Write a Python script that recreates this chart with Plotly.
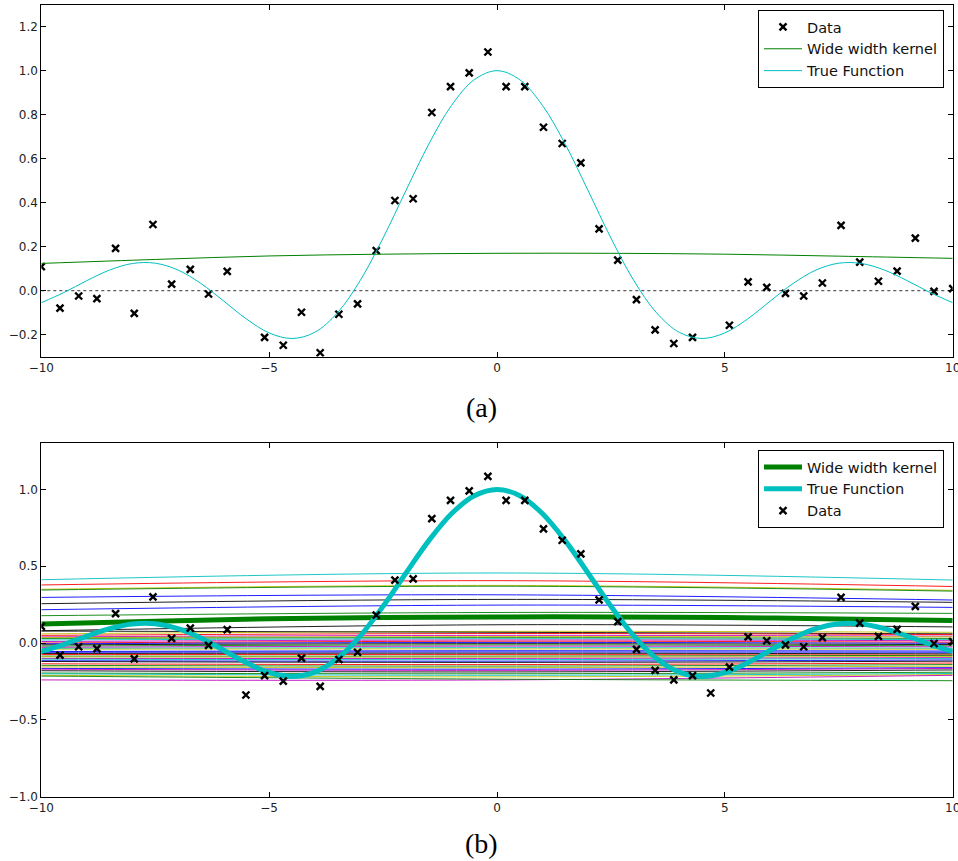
import plotly.graph_objects as go

# ---------------- data ----------------
data_x = [-10.0, -9.59, -9.18, -8.78, -8.37, -7.96, -7.55, -7.14, -6.73, -6.33,
          -5.92, -5.51, -5.10, -4.69, -4.29, -3.88, -3.47, -3.06, -2.65, -2.24,
          -1.84, -1.43, -1.02, -0.61, -0.20, 0.20, 0.61, 1.02, 1.43, 1.84,
          2.24, 2.65, 3.06, 3.47, 3.88, 4.29, 4.69, 5.10, 5.51, 5.92,
          6.33, 6.73, 7.14, 7.55, 7.96, 8.37, 8.78, 9.18, 9.59, 10.0]
data_y = [0.109, -0.079, -0.024, -0.036, 0.192, -0.103, 0.301, 0.030, 0.097, -0.015,
          0.088, -0.338, -0.212, -0.248, -0.098, -0.282, -0.107, -0.060, 0.182, 0.410,
          0.418, 0.810, 0.928, 0.990, 1.085, 0.928, 0.928, 0.743, 0.669, 0.581,
          0.281, 0.139, -0.041, -0.178, -0.240, -0.212, -0.325, -0.157, 0.040, 0.015,
          -0.012, -0.024, 0.035, 0.297, 0.130, 0.043, 0.089, 0.239, -0.003, 0.009]

true_x = [-10, -9.5, -9, -8.5, -8, -7.5, -7, -6.5, -6, -5.5, -5, -4.5, -4, -3.5, -3,
          -2.5, -2, -1.5, -1, -0.5, 0, 0.5, 1, 1.5, 2, 2.5, 3, 3.5, 4, 4.5, 5,
          5.5, 6, 6.5, 7, 7.5, 8, 8.5, 9, 9.5, 10]
true_y = [-0.0544, -0.0079, 0.0458, 0.0939, 0.1237, 0.1251, 0.0939, 0.0331, -0.0466,
          -0.1283, -0.1918, -0.2172, -0.1892, -0.1002, 0.0470, 0.2394, 0.4546, 0.6650,
          0.8415, 0.9589, 1.0, 0.9589, 0.8415, 0.6650, 0.4546, 0.2394, 0.0470, -0.1002,
          -0.1892, -0.2172, -0.1918, -0.1283, -0.0466, 0.0331, 0.0939, 0.1251, 0.1237,
          0.0939, 0.0458, -0.0079, -0.0544]

kernel_x = [-10, -7.5, -5, -2.5, 0, 2.5, 5, 7.5, 10]
kernel_y = [0.124, 0.142, 0.158, 0.166, 0.170, 0.170, 0.166, 0.157, 0.147]

# prior samples (panel b): value at x = -10, 0, 10
sample_x = [-10, 0, 10]
sample_colors = ['c', 'r', 'y', 'g', 'b', 'k', 'b', 'g', 'k',
                 'y', 'k', 'r', 'm', 'y', 'g', 'c', 'm', 'r', 'b', 'k', 'g', 'm', 'c',
                 'y', 'b', 'b', 'k', 'r', 'g', 'y', 'm', 'c', 'b', 'k', 'r', 'g', 'y',
                 'b', 'm', 'k', 'g', 'c', 'y', 'm', 'g']
sample_left = [0.412, 0.378, 0.350, 0.345, 0.297, 0.256, 0.217, 0.178, 0.080,
               0.060, 0.078, 0.050, 0.040, 0.035, 0.030, 0.020, 0.010, 0.000, -0.005,
               -0.012, -0.020, -0.028, -0.035, -0.040, -0.055, -0.060, -0.068, -0.075,
               -0.085, -0.090, -0.100, -0.105, -0.115, -0.120, -0.135, -0.145, -0.155,
               -0.165, -0.170, -0.180, -0.195, -0.200, -0.210, -0.240, -0.215]
sample_mid = [0.456, 0.406, 0.375, 0.370, 0.314, 0.284, 0.247, 0.199, 0.119,
              0.076, 0.070, 0.062, 0.050, 0.042, 0.035, 0.028, 0.020, 0.012, 0.004,
              -0.004, -0.012, -0.020, -0.030, -0.038, -0.050, -0.058, -0.066, -0.075,
              -0.085, -0.092, -0.100, -0.108, -0.118, -0.126, -0.140, -0.150, -0.160,
              -0.170, -0.178, -0.188, -0.200, -0.210, -0.220, -0.240, -0.235]
sample_right = [0.410, 0.368, 0.343, 0.338, 0.280, 0.265, 0.232, 0.193, 0.105,
                0.070, 0.060, 0.055, 0.045, 0.040, 0.030, 0.022, 0.015, 0.005, -0.002,
                -0.010, -0.018, -0.025, -0.034, -0.040, -0.052, -0.060, -0.070, -0.078,
                -0.080, -0.088, -0.095, -0.100, -0.110, -0.118, -0.130, -0.140, -0.150,
                -0.160, -0.165, -0.175, -0.190, -0.198, -0.205, -0.210, -0.245]

x_ticks = [-10, -5, 0, 5, 10]
y_ticks_a = [-0.2, 0.0, 0.2, 0.4, 0.6, 0.8, 1.0, 1.2]
y_ticks_b = [-1.0, -0.5, 0.0, 0.5, 1.0]

# ---------------- styling ----------------
MPL = {'b': '#0000ff', 'g': '#008000', 'r': '#ff0000', 'c': '#00bfbf',
       'm': '#bf00bf', 'y': '#bfbf00', 'k': '#000000'}
W, H = 958, 861
fig = go.Figure()

marker_style = dict(symbol='x-thin', size=7, color='black',
                    line=dict(width=2.4, color='black'))

# ----- panel (a)
fig.add_trace(go.Scatter(x=data_x, y=data_y, mode='markers', name='Data',
                         marker=marker_style, xaxis='x', yaxis='y', legend='legend'))
fig.add_trace(go.Scatter(x=kernel_x, y=kernel_y, mode='lines', name='Wide width kernel',
                         line=dict(color=MPL['g'], width=1, shape='spline'),
                         xaxis='x', yaxis='y', legend='legend'))
fig.add_trace(go.Scatter(x=true_x, y=true_y, mode='lines', name='True Function',
                         line=dict(color=MPL['c'], width=1, shape='spline'),
                         xaxis='x', yaxis='y', legend='legend'))

# ----- panel (b)
for c, l, m, r in zip(sample_colors, sample_left, sample_mid, sample_right):
    fig.add_trace(go.Scatter(x=sample_x, y=[l, m, r], mode='lines', showlegend=False,
                             line=dict(color=MPL[c], width=1, shape='spline'),
                             opacity=0.88, xaxis='x2', yaxis='y2', hoverinfo='skip'))
fig.add_trace(go.Scatter(x=kernel_x, y=kernel_y, mode='lines', name='Wide width kernel',
                         line=dict(color=MPL['g'], width=5, shape='spline'),
                         xaxis='x2', yaxis='y2', legend='legend2'))
fig.add_trace(go.Scatter(x=true_x, y=true_y, mode='lines', name='True Function',
                         line=dict(color=MPL['c'], width=5, shape='spline'),
                         xaxis='x2', yaxis='y2', legend='legend2'))
fig.add_trace(go.Scatter(x=data_x, y=data_y, mode='markers', name='Data',
                         marker=marker_style, xaxis='x2', yaxis='y2', legend='legend2'))

xdom = [41.3 / W, 952.7 / W]
ydom_a = [1 - 356.7 / H, 1 - 4.7 / H]
ydom_b = [1 - 796.7 / H, 1 - 443.3 / H]

axis_common = dict(showline=True, linecolor='black', linewidth=1, mirror='ticks',
                   ticks='inside', ticklen=5, tickcolor='black', showgrid=False,
                   zeroline=False, automargin=False,
                   tickfont=dict(family='DejaVu Sans', size=12, color='#222222'))

legend_common = dict(xanchor='left', yanchor='top', bgcolor='white',
                     bordercolor='black', borderwidth=1, tracegroupgap=0,
                     itemwidth=38,
                     font=dict(family='DejaVu Sans', size=14.5, color='#111111'))

fig.update_layout(
    width=W, height=H, margin=dict(l=0, r=0, t=0, b=0),
    paper_bgcolor='white', plot_bgcolor='white',
    xaxis=dict(domain=xdom, range=[-10, 10], tickvals=x_ticks, anchor='y',
               ticklabeloverflow='allow', **axis_common),
    yaxis=dict(domain=ydom_a, range=[-0.3, 1.3], tickvals=y_ticks_a, tickformat='.1f',
               anchor='x', **axis_common),
    xaxis2=dict(domain=xdom, range=[-10, 10], tickvals=x_ticks, anchor='y2',
                ticklabeloverflow='allow', **axis_common),
    yaxis2=dict(domain=ydom_b, range=[-1.0, 1.3], tickvals=y_ticks_b, tickformat='.1f',
                anchor='x2', **axis_common),
    legend=dict(x=758 / W, y=1 - 10 / H, **legend_common),
    legend2=dict(x=758 / W, y=1 - 450 / H, **legend_common),
    shapes=[dict(type='line', xref='x domain', yref='y', x0=0, x1=1, y0=0, y1=0,
                 line=dict(color='#333333', width=1, dash='dot'), layer='below')],
    annotations=[
        dict(text='(a)', xref='paper', yref='paper', x=481 / W, y=1 - 407 / H,
             xanchor='center', yanchor='middle', showarrow=False,
             font=dict(family='Liberation Serif', size=28, color='black')),
        dict(text='(b)', xref='paper', yref='paper', x=481 / W, y=1 - 843 / H,
             xanchor='center', yanchor='middle', showarrow=False,
             font=dict(family='Liberation Serif', size=28, color='black')),
    ],
    showlegend=True,
)

fig.write_html('out.html',
               config={'displayModeBar': False},
               post_script="document.body.style.margin='0';"
                           "document.body.style.overflow='hidden';")
